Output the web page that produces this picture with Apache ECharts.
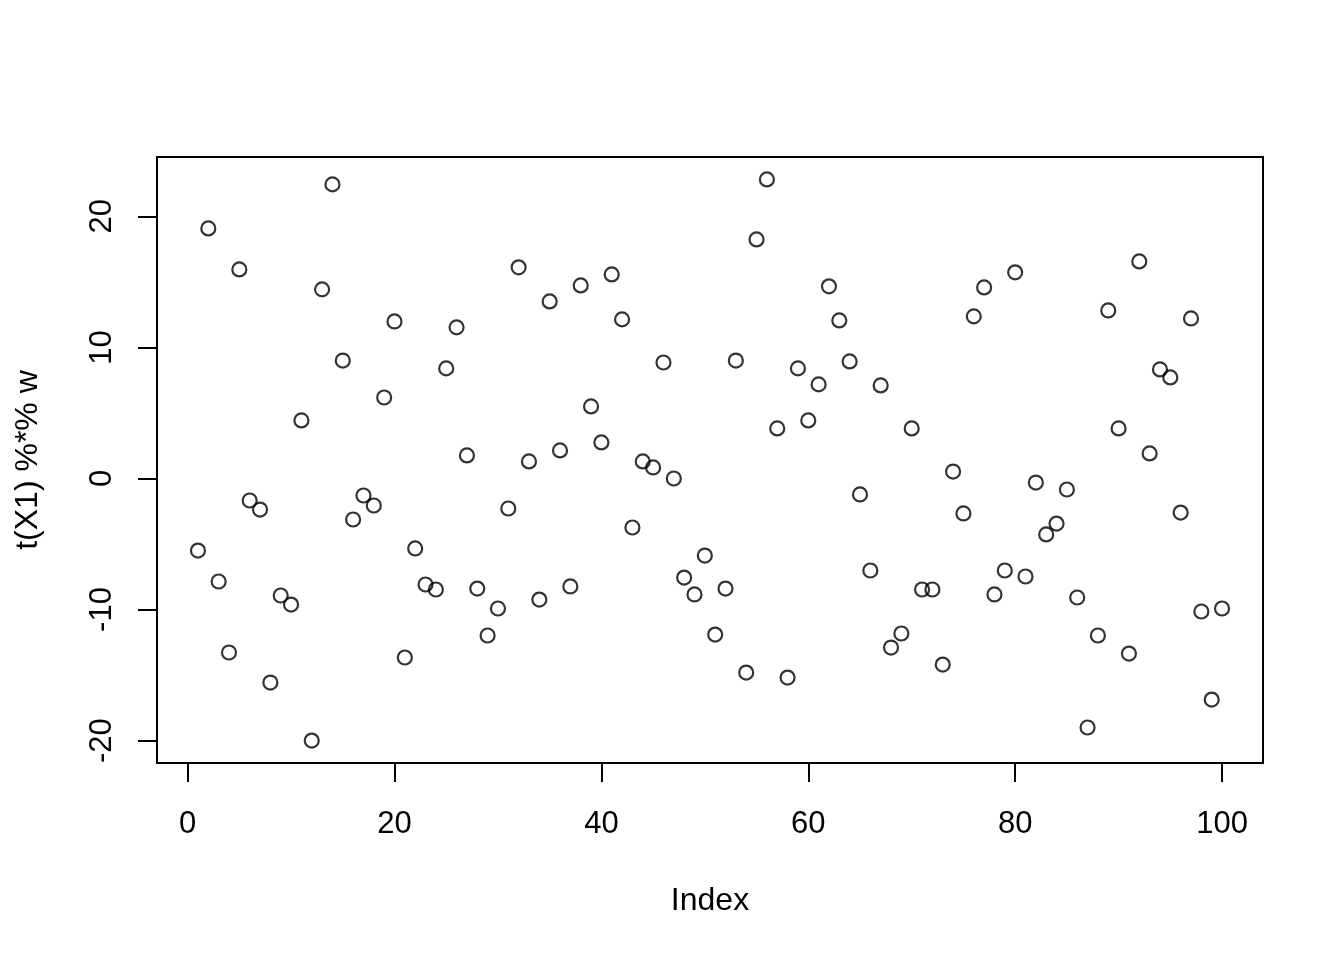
<!DOCTYPE html>
<html>
<head>
<meta charset="utf-8">
<script src="https://cdn.jsdelivr.net/npm/echarts@6/dist/echarts.min.js"></script>
<style>
html,body{margin:0;padding:0;background:#fff;}
#chart{width:1344px;height:960px;}
</style>
</head>
<body>
<div id="chart"></div>
<script>
// y values t(X1) %*% w, for Index 1..100
const values = [
  -5.50, 19.08, -7.86, -13.28, 15.95, -1.68, -2.37, -15.57, -8.93, -9.62,
  4.43, -20.00, 14.43, 22.44, 9.00, -3.13, -1.30, -2.06, 6.18, 11.98,
  -13.66, -5.34, -8.09, -8.47, 8.40, 11.53, 1.76, -8.40, -11.98, -9.92,
  -2.29, 16.11, 1.30, -9.24, 13.51, 2.14, -8.24, 14.73, 5.50, 2.75,
  15.57, 12.14, -3.74, 1.30, 0.84, 8.85, 0.00, -7.56, -8.85, -5.88,
  -11.91, -8.40, 9.00, -14.81, 18.24, 22.82, 3.82, -15.19, 8.40, 4.43,
  7.18, 14.66, 12.06, 8.93, -1.22, -7.02, 7.10, -12.90, -11.83, 3.82,
  -8.47, -8.47, -14.20, 0.53, -2.67, 12.37, 14.58, -8.85, -7.02, 15.73,
  -7.48, -0.31, -4.27, -3.44, -0.84, -9.08, -19.00, -11.98, 12.82, 3.82,
  -13.36, 16.56, 1.91, 8.32, 7.71, -2.60, 12.21, -10.15, -16.87, -9.92
];
const xTicks = [0, 20, 40, 60, 80, 100];
const yTicks = [-20, -10, 0, 10, 20];
const xTitle = 'Index';
const yTitle = 't(X1) %*% w';

const index = values.map((v, i) => i + 1);
const points = values.map((v, i) => [index[i], v]);

const font = '"Liberation Sans", Arial, Helvetica, sans-serif';
const chart = echarts.init(document.getElementById('chart'));
chart.setOption({
  animation: false,
  backgroundColor: '#ffffff',
  grid: {
    left: 157, right: 81, top: 157, bottom: 197,
    show: true, borderColor: '#000', borderWidth: 2, backgroundColor: 'transparent'
  },
  xAxis: {
    type: 'value',
    min: -2.96, max: 103.96,
    splitLine: { show: false },
    axisLine: { show: false, onZero: false },
    axisTick: { show: true, customValues: xTicks, length: 19, lineStyle: { color: '#000', width: 2 } },
    axisLabel: { customValues: xTicks, color: '#000', fontSize: 31, fontFamily: font, margin: 46 },
    name: xTitle, nameLocation: 'middle', nameGap: 122,
    nameTextStyle: { color: '#000', fontSize: 32, fontFamily: font }
  },
  yAxis: {
    type: 'value',
    min: -21.71, max: 24.53,
    splitLine: { show: false },
    axisLine: { show: false, onZero: false },
    axisTick: { show: true, customValues: yTicks, length: 19, lineStyle: { color: '#000', width: 2 } },
    axisLabel: { customValues: yTicks, color: '#000', fontSize: 31, fontFamily: font, margin: 39, rotate: 90 },
    name: yTitle, nameLocation: 'middle', nameGap: 113, nameRotate: 90,
    nameTextStyle: { color: '#000', fontSize: 32, fontFamily: font }
  },
  series: [{
    type: 'scatter',
    data: points,
    symbol: 'circle',
    symbolSize: 14,
    itemStyle: { color: 'transparent', borderColor: '#000', borderWidth: 2.2 }
  }]
});
</script>
</body>
</html>
